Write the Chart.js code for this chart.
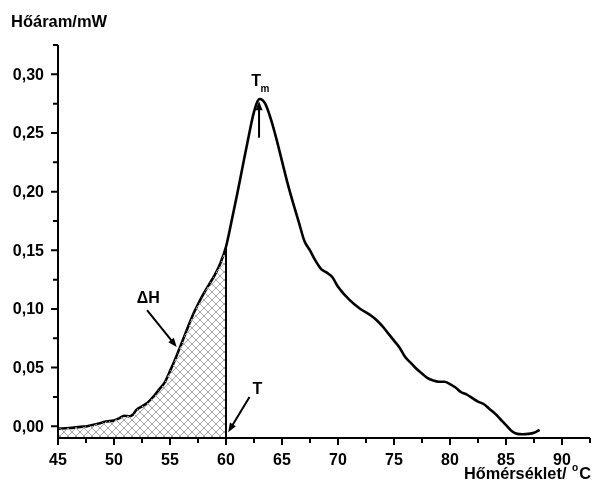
<!DOCTYPE html>
<html>
<head>
  <title>DSC Hőáram</title>
  <script src="https://cdn.jsdelivr.net/npm/chart.js"></script>
  <style>
    body { margin: 0; background: #fff; }
    canvas { display: block; }
  </style>
</head>
<body>
  <canvas id="dsc" width="595" height="486"></canvas>

  <script>
    const temps = [45, 46, 47, 47.6, 48.5, 49.3, 50, 50.5, 50.9, 51.4, 51.7, 52, 52.5, 53, 53.5, 54, 54.5, 55, 55.5, 56,
      56.5, 57, 57.5, 58, 58.5, 59, 59.5, 60, 60.5, 61, 61.5, 62, 62.5, 63, 63.5, 64, 64.5, 65, 65.5, 66,
      66.5, 67, 67.5, 68, 68.5, 69, 69.5, 70, 71, 72, 73, 73.5, 74, 74.5, 75, 75.5, 76, 76.5, 77, 77.5,
      78, 78.5, 79, 79.5, 80, 80.5, 81, 81.5, 82, 82.5, 83, 83.5, 84, 84.5, 85, 85.5, 86, 86.5, 87, 87.5, 88];
    const heatFlow = [-0.002, -0.0015, -0.0005, 0.000, 0.002, 0.004, 0.005, 0.007, 0.009, 0.0085, 0.010, 0.014, 0.017, 0.020, 0.025, 0.031, 0.037, 0.047, 0.058, 0.070,
      0.082, 0.094, 0.104, 0.113, 0.121, 0.129, 0.139, 0.153, 0.175, 0.198, 0.222, 0.246, 0.268, 0.279, 0.275, 0.262, 0.245, 0.226, 0.207, 0.190,
      0.174, 0.158, 0.150, 0.141, 0.134, 0.131, 0.127, 0.119, 0.108, 0.100, 0.094, 0.090, 0.085, 0.079, 0.073, 0.067, 0.059, 0.054, 0.049, 0.045,
      0.041, 0.039, 0.038, 0.038, 0.036, 0.033, 0.029, 0.027, 0.024, 0.021, 0.019, 0.015, 0.011, 0.006, 0.001, -0.004, -0.0065, -0.0068, -0.0065, -0.0055, -0.003];

    const onsetT = 60;   // T, end of shaded area

    const xTicks = [45, 50, 55, 60, 65, 70, 75, 80, 85, 90];
    const xTickLabels = ['45', '50', '55', '60', '65', '70', '75', '80', '85', '90'];
    const yTicks = [0, 0.05, 0.10, 0.15, 0.20, 0.25, 0.30];
    const yTickLabels = ['0,00', '0,05', '0,10', '0,15', '0,20', '0,25', '0,30'];

    // annotation anchors, data units
    const tmLabel = [62.95, 0.294];
    const tmArrow = [[62.95, 0.246], [62.95, 0.277]];
    const dhLabel = [53.05, 0.109];
    const dhArrow = [[52.95, 0.099], [55.6, 0.0675]];
    const tLabel = [62.8, 0.031];
    const tArrow = [[62.1, 0.025], [60.2, -0.005]];

    const curve = temps.map((t, i) => ({ x: t, y: heatFlow[i] }));
    const shaded = curve.filter(p => p.x <= onsetT);

    // cross hatch pattern
    function hatch() {
      const c = document.createElement('canvas');
      c.width = 16; c.height = 16;
      const g = c.getContext('2d');
      g.strokeStyle = '#a6a6a6';
      g.lineWidth = 1;
      g.beginPath();
      for (let k = -32; k <= 32; k += 8) {
        g.moveTo(k - 2, -2); g.lineTo(k + 18, 18);
        g.moveTo(k + 18, -2); g.lineTo(k - 2, 18);
      }
      g.stroke();
      return g.createPattern(c, 'repeat');
    }

    const FONT = "bold 16px 'Liberation Sans', Arial, sans-serif";
    const SMALL = "bold 10px 'Liberation Sans', Arial, sans-serif";

    function arrow(ctx, x1, y1, x2, y2) {
      const a = Math.atan2(y2 - y1, x2 - x1);
      const L = 9, W = 3.5;
      ctx.beginPath();
      ctx.moveTo(x1, y1);
      ctx.lineTo(x2 - Math.cos(a) * L * 0.8, y2 - Math.sin(a) * L * 0.8);
      ctx.stroke();
      ctx.beginPath();
      ctx.moveTo(x2, y2);
      ctx.lineTo(x2 - Math.cos(a) * L - Math.sin(a) * W, y2 - Math.sin(a) * L + Math.cos(a) * W);
      ctx.lineTo(x2 - Math.cos(a) * L + Math.sin(a) * W, y2 - Math.sin(a) * L - Math.cos(a) * W);
      ctx.closePath();
      ctx.fill();
    }

    const decor = {
      id: 'decor',
      afterDatasetsDraw(chart) {
        const { ctx, scales: { x, y } } = chart;
        // vertical line at T
        const yT = heatFlow[temps.indexOf(onsetT)];
        ctx.save();
        ctx.strokeStyle = '#000';
        ctx.lineWidth = 2;
        ctx.beginPath();
        ctx.moveTo(x.getPixelForValue(onsetT), y.bottom);
        ctx.lineTo(x.getPixelForValue(onsetT), y.getPixelForValue(yT));
        ctx.stroke();
        ctx.restore();
      },
      afterDraw(chart) {
        const { ctx, scales: { x, y } } = chart;
        const px = v => x.getPixelForValue(v);
        const py = v => y.getPixelForValue(v);
        ctx.save();
        ctx.strokeStyle = '#000';
        ctx.fillStyle = '#000';
        ctx.lineWidth = 2;

        // axes
        ctx.beginPath();
        ctx.moveTo(x.left, y.top);
        ctx.lineTo(x.left, y.bottom);
        ctx.lineTo(x.right, y.bottom);
        ctx.stroke();

        // ticks (major + minor)
        ctx.beginPath();
        for (let v = x.min; v <= x.max + 1e-9; v += 2.5) {
          const major = xTicks.includes(v);
          ctx.moveTo(px(v), y.bottom);
          ctx.lineTo(px(v), y.bottom + (major ? 7 : 5));
        }
        for (let i = 0; i <= 13; i++) {
          const v = i * 0.025;
          const major = i % 2 === 0;
          ctx.moveTo(x.left, py(v));
          ctx.lineTo(x.left - (major ? 7 : 5), py(v));
        }
        ctx.stroke();

        // tick labels
        ctx.font = FONT;
        ctx.textAlign = 'center';
        ctx.textBaseline = 'alphabetic';
        xTicks.forEach((v, i) => ctx.fillText(xTickLabels[i], px(v), y.bottom + 27));
        ctx.textAlign = 'right';
        ctx.textBaseline = 'middle';
        yTicks.forEach((v, i) => ctx.fillText(yTickLabels[i], x.left - 14, py(v) + 1));

        // axis titles
        ctx.textBaseline = 'alphabetic';
        ctx.textAlign = 'left';
        ctx.save();
        ctx.translate(11, 27);
        ctx.scale(1.03, 1);
        ctx.fillText('Hőáram/mW', 0, 0);
        ctx.restore();

        ctx.save();
        ctx.translate(591, 479);
        ctx.scale(1.02, 1);
        ctx.textAlign = 'right';
        ctx.fillText('C', 0, 0);
        const wC = ctx.measureText('C').width;
        ctx.font = SMALL;
        ctx.fillText('o', -wC - 1, -8);
        const wo = ctx.measureText('o').width;
        ctx.font = FONT;
        ctx.fillText('Hőmérséklet/ ', -wC - wo - 2, 0);
        ctx.restore();

        // annotations
        ctx.textAlign = 'center';
        ctx.textBaseline = 'middle';
        ctx.fillText('T', px(tmLabel[0]) - 3, py(tmLabel[1]));
        ctx.font = SMALL;
        ctx.fillText('m', px(tmLabel[0]) + 6, py(tmLabel[1]) + 8);
        ctx.font = FONT;
        ctx.fillText('ΔH', px(dhLabel[0]), py(dhLabel[1]));
        ctx.fillText('T', px(tLabel[0]), py(tLabel[1]));

        [tmArrow, dhArrow, tArrow].forEach(a =>
          arrow(ctx, px(a[0][0]), py(a[0][1]), px(a[1][0]), py(a[1][1])));

        ctx.restore();
      }
    };

    const chart = new Chart(document.getElementById('dsc'), {
      type: 'line',
      data: {
        datasets: [
          {
            label: 'ΔH',
            data: shaded,
            borderWidth: 0,
            borderColor: 'transparent',
            backgroundColor: hatch(),
            fill: 'start',
            pointRadius: 0,
            tension: 0
          },
          {
            label: 'Hőáram',
            data: curve,
            borderColor: '#000',
            borderWidth: 2.6,
            fill: false,
            pointRadius: 0,
            cubicInterpolationMode: 'monotone'
          }
        ]
      },
      options: {
        responsive: false,
        animation: false,
        devicePixelRatio: 1,
        layout: { padding: { top: 45, right: 5, left: 0, bottom: 0 } },
        plugins: { legend: { display: false }, tooltip: { enabled: false } },
        scales: {
          x: {
            type: 'linear',
            min: 45,
            max: 92.5,
            grid: { display: false, drawTicks: false },
            border: { display: false },
            ticks: { display: false },
            afterFit: s => { s.height = 48; }
          },
          y: {
            min: -0.01,
            max: 0.325,
            grid: { display: false, drawTicks: false },
            border: { display: false },
            ticks: { display: false },
            afterFit: s => { s.width = 58; }
          }
        }
      },
      plugins: [decor]
    });
  </script>
</body>
</html>
